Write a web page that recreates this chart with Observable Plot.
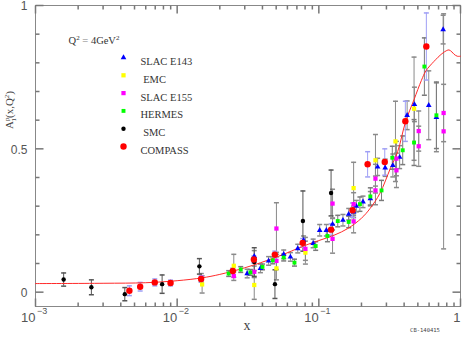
<!DOCTYPE html>
<html><head><meta charset="utf-8">
<script src="https://cdn.jsdelivr.net/npm/d3@7"></script>
<script src="https://cdn.jsdelivr.net/npm/@observablehq/plot@0.6"></script>
<style>
html,body{margin:0;padding:0;background:#fff;}
#chart{position:relative;width:463px;height:339px;}
svg{overflow:visible}
</style></head>
<body><div id="chart"></div>
<script>
// ---- data ----
const seriesNames = ["SLAC E143", " EMC", "SLAC E155", "HERMES", " SMC", "COMPASS"];

const e143X = [0.0312,0.035,0.0387,0.0442,0.0565,0.063,0.071,0.078,0.0912,0.1014,0.113,0.125,0.148,0.1625,0.176,0.184,0.205,0.231,0.26,0.294,0.333,0.372,0.42,0.473,0.597,0.676,0.754];
const e143Y = [0.065,0.125,0.083,0.109,0.132,0.123,0.152,0.181,0.17,0.216,0.216,0.237,0.251,0.272,0.28,0.30,0.315,0.326,0.437,0.434,0.442,0.471,0.617,0.655,0.652,0.61,0.916];
const e143E = [0.015,0.02,0.015,0.015,0.015,0.015,0.015,0.015,0.015,0.02,0.02,0.02,0.02,0.02,0.02,0.02,0.02,0.025,0.03,0.03,0.04,0.04,0.05,0.06,0.12,0.12,0.05];

const emcX = [0.015,0.0251,0.035,0.0502,0.0804,0.176,0.251,0.3475,0.47];
const emcY = [0.027,0.092,0.025,0.083,0.138,0.363,0.46,0.526,0.64];
const emcE = [0.03,0.04,0.05,0.04,0.04,0.09,0.09,0.14,0.18];

const e155X = [0.0148,0.0251,0.035,0.0502,0.0502,0.0804,0.125,0.125,0.176,0.176,0.251,0.251,0.353,0.353,0.507,0.507,0.76,0.76];
const e155Y = [0.05,0.056,0.071,0.222,0.109,0.151,0.309,0.186,0.307,0.247,0.396,0.355,0.466,0.425,0.562,0.509,0.625,0.561];
const e155E = [0.015,0.015,0.02,0.09,0.03,0.04,0.05,0.05,0.04,0.04,0.05,0.05,0.06,0.06,0.07,0.07,0.1,0.41];

const hermesX = [0.0231,0.0281,0.0329,0.040,0.0473,0.0565,0.0673,0.095,0.115,0.136,0.1625,0.195,0.231,0.277,0.33,0.391,0.47,0.556,0.676];
const hermesY = [0.065,0.079,0.069,0.088,0.111,0.121,0.103,0.161,0.196,0.248,0.245,0.307,0.334,0.355,0.469,0.495,0.522,0.787,0.617];
const hermesE = [0.01,0.01,0.01,0.01,0.012,0.012,0.012,0.015,0.02,0.02,0.02,0.025,0.03,0.035,0.04,0.05,0.08,0.1,0.116];

const smcX = [0.00158,0.00248,0.00427,0.00783,0.01435,0.035,0.049,0.0772,0.122];
const smcY = [0.044,0.017,-0.007,0.028,0.09,0.105,0.028,0.248,0.346];
const smcE = [0.023,0.026,0.023,0.032,0.027,0.05,0.05,0.105,0.08];

const compassX = [0.0046,0.00548,0.00695,0.00898,0.01476,0.0247,0.0348,0.0489,0.0769,0.122,0.173,0.221,0.292,0.408,0.574];
const compassY = [0.005,0.019,0.034,0.032,0.046,0.074,0.114,0.131,0.172,0.218,0.286,0.446,0.454,0.596,0.857];
const compassE = [0.017,0.015,0.012,0.01,0.01,0.01,0.012,0.012,0.015,0.02,0.025,0.044,0.046,0.07,0.117];

const curveX = [0.001,0.003,0.006,0.01,0.015,0.02,0.03,0.05,0.08,0.1,0.13,0.16,0.2,0.23,0.27,0.32,0.36,0.41,0.47,0.53,0.57,0.65,0.74,0.8,0.83,0.87,0.9,0.95,1.0];
const curveY = [0.030,0.031,0.033,0.040,0.050,0.062,0.085,0.122,0.163,0.180,0.200,0.222,0.258,0.292,0.345,0.432,0.49,0.595,0.672,0.739,0.772,0.805,0.832,0.843,0.845,0.838,0.83,0.823,0.823];

const xMajor = [0.001,0.01,0.1,1];
const xLabelBase = ["10","10","10","1"];
const xLabelExp = ["\u22123","\u22122","\u22121",""];
const yMajor = [0,0.5,1];
const yLabels = ["0","0.5","1"];

// ---- build ----
const xMinor = [];
for (const d of [0.001,0.01,0.1]) for (let k=2;k<=9;k++) xMinor.push(+(d*k).toPrecision(3));
const yMinor = d3.range(1,10).filter(k=>k!==5).map(k=>k/10);

const series = [
  {name:seriesNames[0], X:e143X, Y:e143Y, E:e143E, fill:"#0000ff", symbol:"triangle", r:2.1, bar:"#8a8a8a"},
  {name:seriesNames[1], X:emcX, Y:emcY, E:emcE, fill:"#ffff00", symbol:"square", r:2.4, bar:"#8a8a8a"},
  {name:seriesNames[2], X:e155X, Y:e155Y, E:e155E, fill:"#ff00ff", symbol:"square", r:2.4, bar:"#8a8a8a"},
  {name:seriesNames[3], X:hermesX, Y:hermesY, E:hermesE, fill:"#00ff00", symbol:"square", r:2.2, bar:"#7a7a7a"},
  {name:seriesNames[4], X:smcX, Y:smcY, E:smcE, fill:"#000000", symbol:"circle", r:2.2, bar:"#555555"},
  {name:seriesNames[5], X:compassX, Y:compassY, E:compassE, fill:"#ff0000", symbol:"circle", r:3.2, bar:"#9f9ff5"}
];
const rows = s => s.X.map((x,i)=>({x, y:s.Y[i], e:s.E[i]}));

const seg = (x1,y1,x2,y2) => ({draw(ctx){ctx.moveTo(x1,y1);ctx.lineTo(x2,y2);}});
const cap = seg(-2.5,0,2.5,0);
const tickCol = "#777";

const marks = [Plot.frame({stroke:"#888", strokeWidth:1})];
// ticks (inward, all four sides)
marks.push(
  Plot.dot(xMinor,{x:d=>d, frameAnchor:"bottom", symbol:seg(0,0,0,-4), stroke:tickCol}),
  Plot.dot(xMajor,{x:d=>d, frameAnchor:"bottom", symbol:seg(0,0,0,-8), stroke:tickCol}),
  Plot.dot(xMinor,{x:d=>d, frameAnchor:"top", symbol:seg(0,0,0,4), stroke:tickCol}),
  Plot.dot(xMajor,{x:d=>d, frameAnchor:"top", symbol:seg(0,0,0,8), stroke:tickCol}),
  Plot.dot(yMinor,{y:d=>d, frameAnchor:"left", symbol:seg(0,0,4,0), stroke:tickCol}),
  Plot.dot(yMajor,{y:d=>d, frameAnchor:"left", symbol:seg(0,0,8,0), stroke:tickCol}),
  Plot.dot(yMinor,{y:d=>d, frameAnchor:"right", symbol:seg(0,0,-4,0), stroke:tickCol}),
  Plot.dot(yMajor,{y:d=>d, frameAnchor:"right", symbol:seg(0,0,-8,0), stroke:tickCol})
);
// tick labels
const lblFont = "Liberation Sans, Arial, sans-serif";
marks.push(
  Plot.text(xMajor,{x:d=>d, frameAnchor:"bottom", text:(d,i)=>xLabelBase[i], dy:15, dx:(0), textAnchor:"end", fontSize:13, fill:"#555", fontFamily:lblFont}),
  Plot.text(xMajor,{x:d=>d, frameAnchor:"bottom", text:(d,i)=>xLabelExp[i], dy:7, dx:1.5, textAnchor:"start", fontSize:9, fill:"#555", fontFamily:lblFont}),
  Plot.text(yMajor,{y:d=>d, frameAnchor:"left", text:(d,i)=>yLabels[i], dx:-8, dy:1, textAnchor:"end", fontSize:12, fill:"#555", fontFamily:lblFont})
);
// error bars
for (const s of series) {
  const R = rows(s);
  marks.push(
    Plot.ruleX(R,{x:"x", y1:d=>d.y-d.e, y2:d=>d.y+d.e, stroke:s.bar, strokeWidth:1}),
    Plot.dot(R,{x:"x", y:d=>d.y-d.e, symbol:cap, stroke:s.bar}),
    Plot.dot(R,{x:"x", y:d=>d.y+d.e, symbol:cap, stroke:s.bar})
  );
}
// curve
marks.push(Plot.line(curveX.map((x,i)=>({x,y:curveY[i]})),{x:"x", y:"y", stroke:"#ff2a2a", strokeWidth:1, curve:"catmull-rom"}));
// points
for (const s of series) {
  marks.push(Plot.dot(rows(s),{x:"x", y:"y", symbol:s.symbol, r:s.r, fill:s.fill, stroke:"none"}));
}
// legend markers and names (pixel offsets inside the frame)
series.forEach((s,i)=>{
  marks.push(
    Plot.dot([s.name],{frameAnchor:"top-left", dx:88, dy:52+i*17.8, symbol:s.symbol, r:s.r, fill:s.fill}),
    Plot.text([s.name],{frameAnchor:"top-left", dx:105, dy:52+i*17.8, text:d=>d, textAnchor:"start", fontSize:10.5, fill:"#333", fontFamily:"Liberation Serif, serif", xmlSpace:"preserve"})
  );
});

const chart = Plot.plot({
  width:463, height:339,
  marginTop:5, marginLeft:35, marginRight:3, marginBottom:33,
  style:{background:"#fff", overflow:"visible"},
  x:{type:"log", domain:[1e-3,1], axis:null},
  y:{domain:[-0.05,1], axis:null},
  marks
});
document.getElementById("chart").appendChild(chart);

// rich-text titles
const svg = d3.select(chart);
const serif = "Liberation Serif, serif";
// x axis title
svg.append("text").attr("x",247).attr("y",330).attr("text-anchor","middle")
  .attr("font-family",serif).attr("font-size",14).attr("fill","#444").text("x");
// y axis title A_1^p(x,Q^2)
const yt = svg.append("text").attr("transform","translate(13,110) rotate(-90)").attr("text-anchor","middle")
  .attr("font-family",serif).attr("font-size",11).attr("fill","#444");
yt.append("tspan").text("A");
yt.append("tspan").attr("font-size",7).attr("dy",-4).text("p");
yt.append("tspan").attr("font-size",7).attr("dx",-4).attr("dy",7).text("1");
yt.append("tspan").attr("dy",-3).text("(x,Q");
yt.append("tspan").attr("font-size",7).attr("dy",-4).text("2");
yt.append("tspan").attr("dy",4).text(")");
// legend title Q^2 = 4GeV^2
const lt = svg.append("text").attr("x",94).attr("y",44)
  .attr("font-family",serif).attr("font-size",10.5).attr("fill","#333");
lt.append("tspan").text("Q");
lt.append("tspan").attr("font-size",7).attr("dy",-4).text("2");
lt.append("tspan").attr("dy",4).attr("fill","#aaa").attr("font-weight","bold").text(" = ");
lt.append("tspan").text("4GeV");
lt.append("tspan").attr("font-size",7).attr("dy",-4).text("2");
// code tag
svg.append("text").attr("x",425).attr("y",332).attr("text-anchor","middle")
  .attr("font-family","DejaVu Sans Mono, monospace").attr("font-size",5.5).attr("fill","#444").text("CB-140415");
</script>
</body></html>
